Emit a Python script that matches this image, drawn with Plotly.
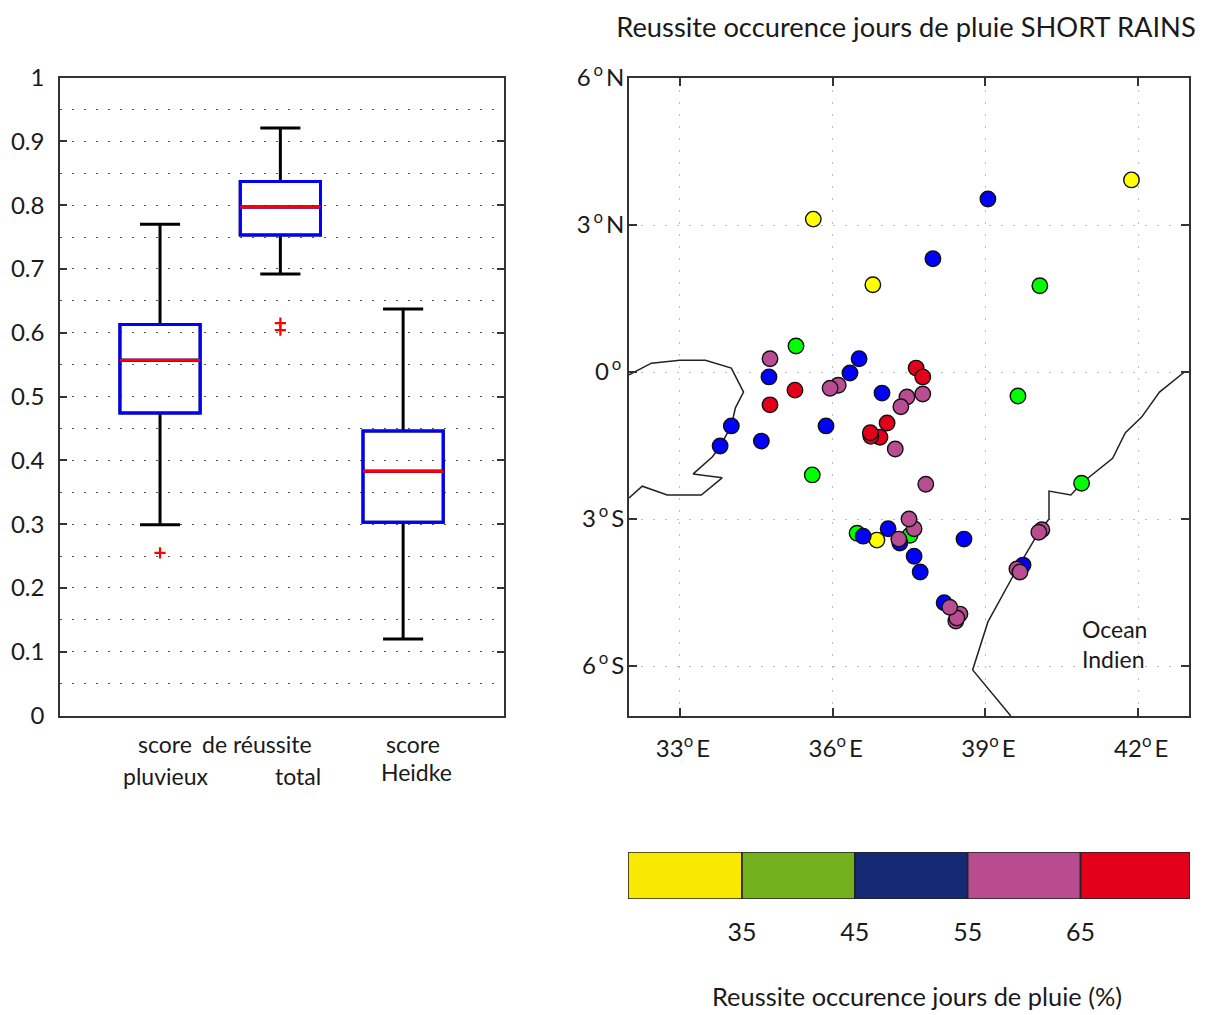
import plotly.graph_objects as go

FONT = "Lato"
TXT = "#1a1a1a"
W, H = 1205, 1015

# ---- box plot statistics
box_pos = [1.0, 1.99, 3.0]
box_low = [0.299, 0.692, 0.120]
box_q1 = [0.474, 0.753, 0.303]
box_med = [0.557, 0.797, 0.383]
box_q3 = [0.613, 0.837, 0.446]
box_up = [0.770, 0.921, 0.637]
out_x = [1.0, 1.99, 1.99]
out_y = [0.255, 0.615, 0.604]

# ---- stations (lon, lat), by class
yellow_lon = [41.87, 35.62, 36.79, 36.87]
yellow_lat = [3.92, 3.12, 1.78, -3.43]
green_lon = [35.28, 40.07, 39.64, 35.60, 40.89, 36.48, 37.52]
green_lat = [0.53, 1.76, -0.49, -2.10, -2.27, -3.29, -3.33]
blue_lon = [39.05, 37.97, 36.52, 36.34, 34.75, 36.97, 35.87, 34.01, 33.79, 34.60,
            37.09, 36.60, 37.32, 37.60, 37.72, 38.58, 39.74, 38.19]
blue_lat = [3.53, 2.31, 0.27, -0.02, -0.10, -0.43, -1.10, -1.10, -1.51, -1.41,
            -3.20, -3.35, -3.49, -3.76, -4.08, -3.41, -3.94, -4.71]
pink_lon = [34.77, 36.11, 35.95, 37.46, 37.77, 37.34, 37.23, 37.83, 37.60, 37.50, 37.30,
            40.11, 40.05, 39.62, 39.68, 38.50, 38.42, 38.44, 38.30]
pink_lat = [0.27, -0.27, -0.33, -0.51, -0.45, -0.71, -1.57, -2.29, -3.20, -3.00, -3.41,
            -3.22, -3.27, -4.02, -4.08, -4.94, -5.08, -5.02, -4.80]
red_lon = [37.64, 37.77, 35.26, 34.77, 37.07, 36.93, 36.75, 36.74]
red_lat = [0.08, -0.10, -0.37, -0.67, -1.04, -1.33, -1.31, -1.24]

# ---- outlines
lake_lon = [32.0, 32.44, 33.0, 33.5, 34.01, 34.25, 34.09, 34.01, 33.79, 33.64, 33.26,
            33.83, 33.42, 32.75, 32.26, 32.0]
lake_lat = [-0.06, 0.18, 0.24, 0.24, 0.08, -0.41, -0.73, -1.10, -1.51, -1.73, -2.08,
            -2.16, -2.51, -2.51, -2.33, -2.57]
coast_lon = [42.91, 42.42, 42.07, 41.75, 41.50, 40.89, 40.68, 40.25, 40.25, 40.05, 39.62,
             39.34, 39.05, 38.75, 39.5]
coast_lat = [0.0, -0.41, -0.92, -1.24, -1.76, -2.27, -2.51, -2.43, -3.0, -3.27, -4.02,
             -4.55, -5.10, -6.08, -7.02]

# ---- colour scale
bin_left = [24.9, 35, 45, 55, 65]
bin_size = [10.1, 10, 10, 10, 9.7]
bin_colors = ["#f9e900", "#72b01d", "#142a73", "#b84c8e", "#e2001a"]
bin_ticks = [35, 45, 55, 65]

map_ticks_x = [33, 36, 39, 42]
map_text_x = ["\u00a033<sup>o</sup>\u2009E", "\u00a036<sup>o</sup>\u2009E",
              "\u00a039<sup>o</sup>\u2009E", "\u00a042<sup>o</sup>\u2009E"]
map_ticks_y = [-6, -3, 0, 3, 6]
map_text_y = ["6\u2009<sup>o</sup>\u2009S", "3\u2009<sup>o</sup>\u2009S", "0\u2009<sup>o</sup>\u2009",
              "3\u2009<sup>o</sup>\u2009N", "6\u2009<sup>o</sup>\u2009N"]

fig = go.Figure()

# black whiskers, blue box over them, red median over that
fig.add_trace(go.Box(x=box_pos, q1=box_q1, median=box_med, q3=box_q3,
                     lowerfence=box_low, upperfence=box_up, width=0.66, whiskerwidth=0.5,
                     line=dict(color="#000000", width=3), fillcolor="rgba(0,0,0,0)",
                     xaxis="x", yaxis="y", showlegend=False))
fig.add_trace(go.Box(x=box_pos, q1=box_q1, median=box_med, q3=box_q3,
                     lowerfence=box_q1, upperfence=box_q3, width=0.66, whiskerwidth=0,
                     line=dict(color="#0000ff", width=3), fillcolor="rgba(0,0,0,0)",
                     xaxis="x", yaxis="y", showlegend=False))
fig.add_trace(go.Box(x=box_pos, q1=box_med, median=box_med, q3=box_med,
                     lowerfence=box_med, upperfence=box_med, width=0.66, whiskerwidth=0,
                     line=dict(color="#ff0000", width=3), fillcolor="rgba(0,0,0,0)",
                     xaxis="x", yaxis="y", showlegend=False))
fig.add_trace(go.Scatter(x=out_x, y=out_y, mode="markers", showlegend=False,
                         marker=dict(symbol="cross-thin", size=8, line=dict(color="#ff0000", width=2.2)),
                         xaxis="x", yaxis="y"))

# map
for lon, lat in ((lake_lon, lake_lat), (coast_lon, coast_lat)):
    fig.add_trace(go.Scatter(x=lon, y=lat, mode="lines", showlegend=False,
                             line=dict(color="#222222", width=1.5), xaxis="x2", yaxis="y2"))
for lon, lat, col in ((green_lon, green_lat, "#00ff00"), (yellow_lon, yellow_lat, "#ffff00"),
                      (blue_lon, blue_lat, "#0000ff"), (pink_lon, pink_lat, "#b84d91"),
                      (red_lon, red_lat, "#e2001a")):
    fig.add_trace(go.Scatter(x=lon, y=lat, mode="markers", showlegend=False,
                             marker=dict(size=15.5, color=col, line=dict(color="#111111", width=1.4)),
                             xaxis="x2", yaxis="y2"))

# colour bar
fig.add_trace(go.Bar(x=bin_size, base=bin_left, y=[0] * 5, orientation="h", width=1,
                     marker=dict(color=bin_colors, line=dict(color="#222222", width=1.6)),
                     showlegend=False, xaxis="x3", yaxis="y3"))


def dx(a, b):
    return [a / W, b / W]


def dy(top, bottom):
    return [(H - bottom) / H, (H - top) / H]


axis_line = dict(showline=True, linecolor="#333333", linewidth=1.6, mirror="ticks")
fig.update_layout(
    width=W, height=H, margin=dict(l=0, r=0, t=0, b=0, autoexpand=False), autosize=False,
    paper_bgcolor="white", plot_bgcolor="white", barmode="overlay", boxmode="overlay",
    font=dict(family=FONT, color=TXT),
    title=dict(text="Reussite occurence jours de pluie SHORT RAINS", x=906 / W, xanchor="center",
               y=1 - 27 / H, yanchor="middle", font=dict(size=27.3, family=FONT, color=TXT)),
    xaxis=dict(domain=dx(60, 504), range=[0.177, 3.83], showgrid=False, zeroline=False, anchor="y",
               showticklabels=False, ticks="", **axis_line),
    yaxis=dict(domain=dy(77.5, 715.5), range=[0, 1], dtick=0.1, tick0=0, ticks="inside", ticklen=7,
               anchor="x", tickcolor="#333333", tickwidth=1.5, showgrid=True, gridcolor="#555555",
               griddash="1.5px,10.5px", gridwidth=1.2, zeroline=False, tickfont=dict(size=24), ticklabelstandoff=9,
               minor=dict(dtick=0.05, showgrid=True, gridcolor="#555555", griddash="1.5px,10.5px", gridwidth=1.2),
               **axis_line),
    xaxis2=dict(domain=dx(629, 1189), range=[32, 43], tickmode="array", tickvals=map_ticks_x, anchor="y2",
                ticktext=map_text_x, ticks="inside", ticklen=8, tickcolor="#333333", tickwidth=1.5,
                showgrid=True, gridcolor="#bbbbbb", griddash="2px,10px", gridwidth=1.2, zeroline=False,
                tickfont=dict(size=24), ticklabelstandoff=10, **axis_line),
    yaxis2=dict(domain=dy(78, 716), range=[-7.02, 6], tickmode="array", tickvals=map_ticks_y, anchor="x2",
                ticktext=map_text_y, ticks="inside", ticklen=8, tickcolor="#333333", tickwidth=1.5,
                showgrid=True, gridcolor="#bbbbbb", griddash="2px,10px", gridwidth=1.2, zeroline=False,
                tickfont=dict(size=24), ticklabelstandoff=-2, **axis_line),
    xaxis3=dict(domain=dx(628, 1190), range=[24.9, 74.7], tickmode="array", tickvals=bin_ticks, anchor="y3",
                ticks="", showgrid=False, zeroline=False, showline=False,
                tickfont=dict(size=25), ticklabelstandoff=16),
    yaxis3=dict(domain=dy(852, 899), range=[-0.5, 0.5], showticklabels=False, ticks="", anchor="x3",
                showgrid=False, zeroline=False, showline=False),
)


def note(text, x, y, size=23, anchor="center", align="center"):
    fig.add_annotation(text=text, xref="paper", yref="paper", x=x / W, y=1 - y / H, showarrow=False,
                       xanchor=anchor, yanchor="middle", align=align,
                       font=dict(size=size, family=FONT, color=TXT))


note("score", 165, 744)
note("de réussite", 257, 744)
note("pluvieux", 165, 776)
note("total", 298, 776)
note("score", 413, 744)
note("Heidke", 416, 772)
note("Ocean<br>Indien", 1080, 644, anchor="left", align="left")
note("Reussite occurence jours de pluie (%)", 917, 996, size=25.4)

fig.write_html("out.html", config={"displayModeBar": False},
               post_script="document.body.style.margin='0';")
